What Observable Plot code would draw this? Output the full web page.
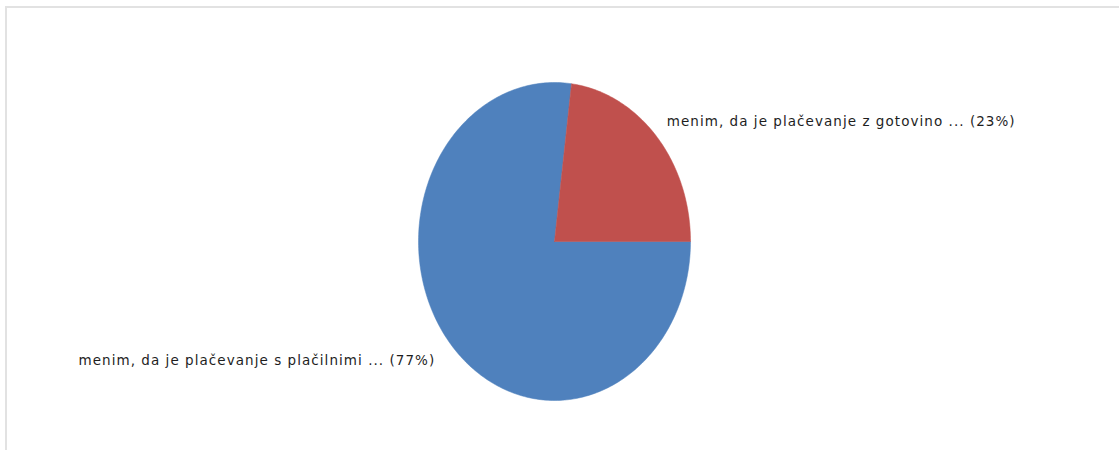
<!DOCTYPE html>
<html>
<head>
<meta charset="utf-8">
<script src="https://cdn.jsdelivr.net/npm/d3@7"></script>
<script src="https://cdn.jsdelivr.net/npm/@observablehq/plot@0.6"></script>
<style>
  html, body { margin: 0; padding: 0; background: #fff; }
  #wrap { position: relative; width: 1119px; height: 450px; overflow: hidden; }
  #border { position: absolute; left: 5px; top: 6px; width: 1120px; height: 450px;
            border-top: 2px solid #e2e2e2; border-left: 2px solid #e2e2e2; box-sizing: border-box; }
  #chart { position: absolute; left: 0; top: 0; }
  #chart text { letter-spacing: 1.05px; }
</style>
</head>
<body>
<div id="wrap"><div id="border"></div><div id="chart"></div></div>
<script>
// Data
const categories = [
  "menim, da je plačevanje s plačilnimi ...",
  "menim, da je plačevanje z gotovino ..."
];
const percents = [77, 23];
const colors = ["#4f81bd", "#c0504d"];

// Build slice outlines (unit coordinates, angle clockwise from top, starting at 3 o'clock)
const startAngle = 90;
const total = d3.sum(percents);
const slices = [];
const points = [];
let a0 = startAngle;
categories.forEach((cat, i) => {
  const sweep = percents[i] / total * 360;
  const a1 = a0 + sweep;
  slices.push({cat, pct: percents[i], a0, a1, mid: (a0 + a1) / 2});
  points.push({cat, x: 0, y: 0});
  const n = Math.max(2, Math.ceil(sweep));
  for (let k = 0; k <= n; k++) {
    const t = (a0 + (a1 - a0) * k / n) * Math.PI / 180;
    points.push({cat, x: Math.sin(t), y: Math.cos(t)});
  }
  points.push({cat, x: 0, y: 0});
  a0 = a1;
});

const labelR = 1.1;
const labels = slices.map(s => {
  const t = s.mid * Math.PI / 180;
  return {cat: s.cat, text: `${s.cat} (${s.pct}%)`, x: labelR * Math.sin(t), y: labelR * Math.cos(t),
          anchor: Math.sin(t) >= 0 ? "start" : "end"};
});

const chart = Plot.plot({
  width: 1119,
  height: 450,
  marginLeft: 418,
  marginRight: 429,
  marginTop: 82,
  marginBottom: 50,
  x: {domain: [-1, 1], axis: null},
  y: {domain: [-1, 1], axis: null},
  color: {domain: categories, range: colors},
  style: {fontFamily: "'DejaVu Sans', sans-serif", fontSize: "13.5px", background: "transparent", overflow: "visible"},
  marks: [
    Plot.line(points, {x: "x", y: "y", z: "cat", fill: "cat", stroke: "cat", strokeWidth: 0.5, curve: "linear"}),
    Plot.text(labels.filter(d => d.anchor === "start"), {x: "x", y: "y", text: "text", textAnchor: "start", fill: "#1e1e1e", dx: 0, dy: -4}),
    Plot.text(labels.filter(d => d.anchor === "end"), {x: "x", y: "y", text: "text", textAnchor: "end", fill: "#1e1e1e", dx: -7, dy: 4})
  ]
});
document.getElementById("chart").appendChild(chart);
</script>
</body>
</html>
